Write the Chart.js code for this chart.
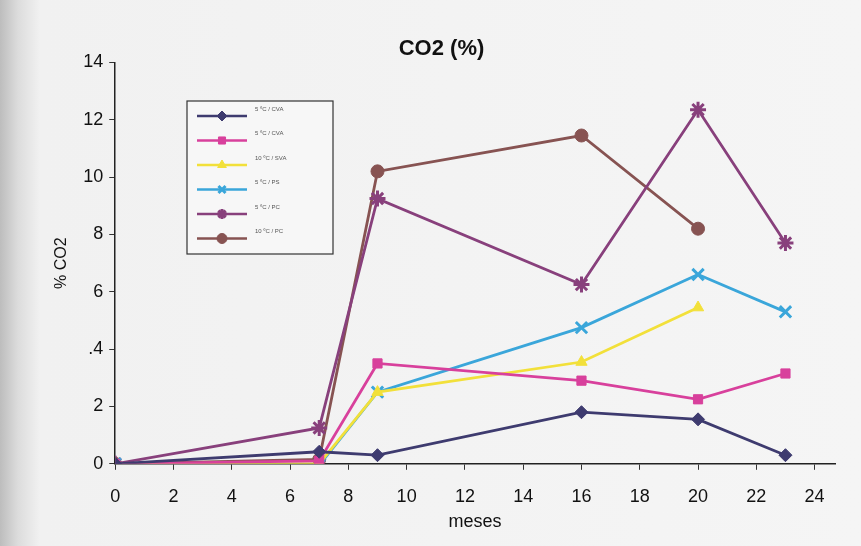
<!DOCTYPE html>
<html>
<head>
<meta charset="utf-8">
<script src="https://cdn.jsdelivr.net/npm/chart.js@4.4.1/dist/chart.umd.min.js"></script>
<style>
  html, body { margin: 0; padding: 0; }
  body { width: 861px; height: 546px; background: linear-gradient(to right, #bdbdbd 0px, #dcdcdc 18px, #f1f1f1 40px, #f5f5f5 100%); }
  #wrap { position: relative; width: 861px; height: 546px; }
</style>
</head>
<body>
<div id="wrap"><canvas id="co2Chart"></canvas></div>
<script>
  const months = [0, 7, 9, 16, 20, 23];
  const seriesNames = ['5 ºC / CVA', '5 ºC / CVA', '10 ºC / SVA', '5 ºC / PS', '5 ºC / PC', '10 ºC / PC'];
  const s1 = [0, 0.42, 0.3, 1.8, 1.55, 0.3];
  const s2 = [0, 0.1, 3.5, 2.9, 2.25, 3.15];
  const s3 = [0, 0, 2.5, 3.55, 5.45, null];
  const s4 = [0, -0.05, 2.5, 4.75, 6.6, 5.3];
  const s5 = [0, 1.25, 9.25, 6.25, 12.35, 7.7];
  const s6 = [0, 0.15, 10.2, 11.45, 8.2, null];
  const yTickLabels = { 0: '0', 2: '2', 4: '.4', 6: '6', 8: '8', 10: '10', 12: '12', 14: '14' };

  const colors = ['#3e3b6f', '#d8409c', '#f2e03a', '#3aa6da', '#88407c', '#875352'];
  const markers = ['rectRot', 'rect', 'triangle', 'cross', 'star', 'circle'];
  const allSeries = [s1, s2, s3, s4, s5, s6];

  const datasets = allSeries.map((vals, i) => ({
    label: seriesNames[i],
    data: months.map((m, j) => ({ x: m, y: vals[j] })).filter(p => p.y !== null),
    borderColor: colors[i],
    backgroundColor: colors[i],
    borderWidth: 2.8,
    pointStyle: markers[i],
    pointRadius: markers[i] === 'cross' || markers[i] === 'star' ? 8 : 6.5,
    pointBorderWidth: markers[i] === 'cross' || markers[i] === 'star' ? 3 : 1,
    pointRotation: markers[i] === 'cross' ? 45 : 0,
    showLine: true,
    tension: 0
  }));

  // legend box drawn inside the plot, upper left
  const boxLegend = {
    id: 'boxLegend',
    afterDraw(chart) {
      const ctx = chart.ctx;
      const x0 = 187, y0 = 101, w = 146, h = 153;
      ctx.save();
      ctx.fillStyle = '#f7f7f7';
      ctx.fillRect(x0, y0, w, h);
      ctx.strokeStyle = '#333';
      ctx.lineWidth = 1.2;
      ctx.strokeRect(x0, y0, w, h);
      chart.data.datasets.forEach((ds, i) => {
        const ly = y0 + 15 + i * 24.5;
        ctx.strokeStyle = ds.borderColor;
        ctx.lineWidth = 2.5;
        ctx.beginPath();
        ctx.moveTo(x0 + 10, ly);
        ctx.lineTo(x0 + 60, ly);
        ctx.stroke();
        ctx.fillStyle = ds.backgroundColor;
        ctx.lineWidth = ds.pointBorderWidth;
        Chart.helpers.drawPoint(ctx, { pointStyle: ds.pointStyle, rotation: ds.pointRotation, radius: 5, borderWidth: ds.pointBorderWidth }, x0 + 35, ly);
        ctx.fillStyle = '#555';
        ctx.font = '6px "Liberation Sans"';
        ctx.textBaseline = 'middle';
        ctx.fillText(ds.label, x0 + 68, ly - 7);
      });
      ctx.restore();
    }
  };

  const ctx = document.getElementById('co2Chart').getContext('2d');
  new Chart(ctx, {
    type: 'scatter',
    data: { datasets },
    plugins: [boxLegend],
    options: {
      animation: false,
      responsive: true,
      maintainAspectRatio: false,
      layout: { padding: { top: 8, right: 26, left: 48, bottom: 13 } },
      plugins: {
        legend: { display: false },
        tooltip: { enabled: false },
        title: {
          display: true, text: 'CO2 (%)', color: '#111',
          font: { family: 'Liberation Sans', size: 22, weight: 'bold' },
          padding: { top: 28, bottom: 0 }
        }
      },
      scales: {
        x: {
          type: 'linear', min: 0, max: 24.7,
          afterBuildTicks: axis => { axis.ticks = axis.ticks.filter(t => t.value % 2 === 0); },
          ticks: { stepSize: 2, includeBounds: false, color: '#111', font: { family: 'Liberation Sans', size: 18 }, padding: 16, maxRotation: 0, autoSkip: false },
          grid: { display: true, drawOnChartArea: false, drawTicks: true, tickLength: 6, color: '#333' },
          border: { display: true, color: '#222', width: 1.5 },
          title: { display: true, text: 'meses', color: '#111', font: { family: 'Liberation Sans', size: 18 }, padding: { top: -12, bottom: 0 } }
        },
        y: {
          min: 0, max: 14,
          ticks: { stepSize: 2, color: '#111', font: { family: 'Liberation Sans', size: 18 }, padding: 6,
                   callback: v => yTickLabels[v] },
          grid: { display: true, drawOnChartArea: false, drawTicks: true, tickLength: 6, color: '#333' },
          border: { display: true, color: '#222', width: 1.5 },
          title: { display: true, text: '% CO2', color: '#111', font: { family: 'Liberation Sans', size: 16 }, padding: { bottom: 6 } }
        }
      }
    }
  });
</script>
</body>
</html>
